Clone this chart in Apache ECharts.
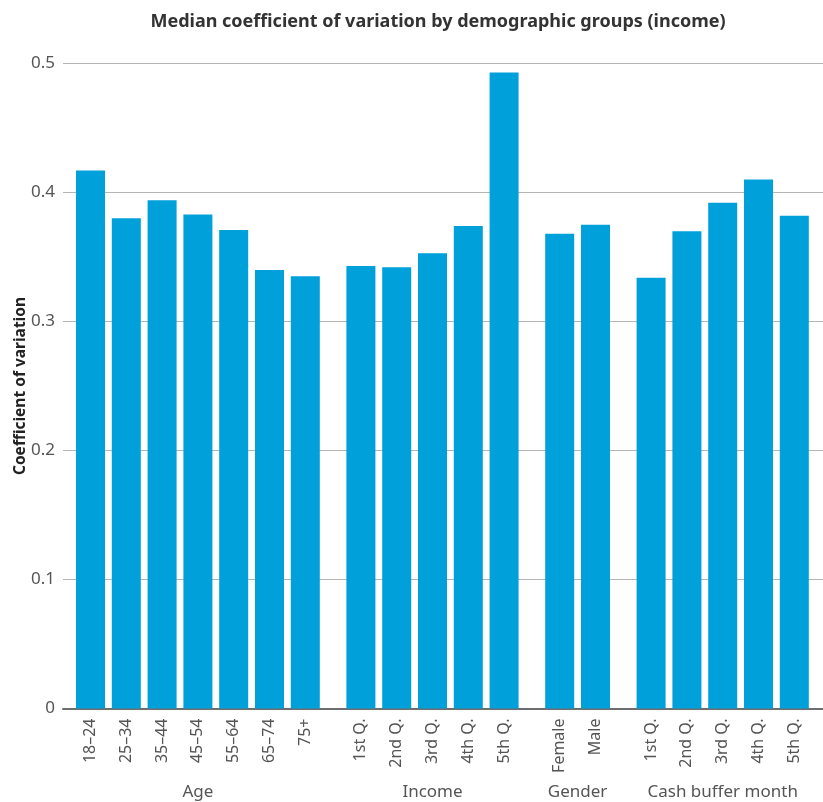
<!DOCTYPE html>
<html>
<head>
<meta charset="utf-8">
<script src="https://cdn.jsdelivr.net/npm/echarts@6/dist/echarts.min.js"></script>
<style>
  html, body { margin: 0; padding: 0; background: #fff; }
  #chart { width: 823px; height: 802px; }
</style>
</head>
<body>
<div id="chart"></div>
<script>
// data
const ageLabels = ['18–24', '25–34', '35–44', '45–54', '55–64', '65–74', '75+'];
const ageValues = [0.417, 0.380, 0.394, 0.383, 0.371, 0.340, 0.335];
const incomeLabels = ['1st Q.', '2nd Q.', '3rd Q.', '4th Q.', '5th Q.'];
const incomeValues = [0.343, 0.342, 0.353, 0.374, 0.493];
const genderLabels = ['Female', 'Male'];
const genderValues = [0.368, 0.375];
const cashLabels = ['1st Q.', '2nd Q.', '3rd Q.', '4th Q.', '5th Q.'];
const cashValues = [0.334, 0.370, 0.392, 0.410, 0.382];
const groupNames = ['Age', 'Income', 'Gender', 'Cash buffer month'];
const yMin = 0, yMax = 0.5, yStep = 0.1;

const groups = [
  { name: groupNames[0], labels: ageLabels, values: ageValues },
  { name: groupNames[1], labels: incomeLabels, values: incomeValues },
  { name: groupNames[2], labels: genderLabels, values: genderValues },
  { name: groupNames[3], labels: cashLabels, values: cashValues }
];

const W = 823;
const FONT = "'Noto Sans', sans-serif";
const TOP = 63.5, BOTTOM = 93.5;
const SLOT = 35.8, GAP = 19.8, START = 72.6;

// one wide grid for the gridlines and y axis, one grid per group for the bars
const grids = [{ left: 63, right: 0, top: TOP, bottom: BOTTOM, outerBoundsMode: 'none' }];
const xAxes = [{
  gridIndex: 0, type: 'value', min: 0, max: 1,
  axisLine: { show: true, lineStyle: { color: '#6e6e6e', width: 2 } },
  axisTick: { show: false }, axisLabel: { show: false }, splitLine: { show: false }
}];
const yAxes = [{
  gridIndex: 0, type: 'value', min: yMin, max: yMax, interval: yStep,
  name: 'Coefficient of variation', nameLocation: 'middle', nameGap: 34, nameMoveOverlap: false,
  nameTextStyle: { fontFamily: FONT, fontSize: 15.5, fontWeight: 'bold', color: '#222' },
  axisLine: { show: false }, axisTick: { show: false },
  axisLabel: { fontFamily: FONT, fontSize: 17, color: '#555', margin: 8,
    formatter: v => v === 0 ? '0' : v.toFixed(1) },
  splitLine: { lineStyle: { color: '#b5b5b5', width: 1 } }
}];
const series = [];

let x = START;
groups.forEach((g, i) => {
  const w = g.labels.length * SLOT;
  const gi = i + 1;
  grids.push({ left: x, right: W - x - w, top: TOP, bottom: BOTTOM, outerBoundsMode: 'none' });
  xAxes.push({
    gridIndex: gi, type: 'category', data: g.labels,
    name: g.name, nameLocation: 'middle', nameGap: 75,
    nameTextStyle: { fontFamily: FONT, fontSize: 17, color: '#555' },
    axisLine: { show: false }, axisTick: { show: false },
    axisLabel: { rotate: 90, margin: 10, fontFamily: FONT, fontSize: 16, color: '#555', interval: 0 }
  });
  yAxes.push({ gridIndex: gi, type: 'value', min: yMin, max: yMax, show: false });
  series.push({
    type: 'bar', xAxisIndex: gi, yAxisIndex: gi, data: g.values,
    barWidth: 29, itemStyle: { color: '#00a0db' }
  });
  x += w + GAP;
});

const chart = echarts.init(document.getElementById('chart'));
chart.setOption({
  animation: false,
  title: {
    text: 'Median coefficient of variation by demographic groups (income)',
    left: 433, top: 8, textAlign: 'center',
    textStyle: { fontFamily: FONT, fontSize: 18, fontWeight: 'bold', color: '#333' }
  },
  grid: grids,
  xAxis: xAxes,
  yAxis: yAxes,
  series: series
});
</script>
</body>
</html>
